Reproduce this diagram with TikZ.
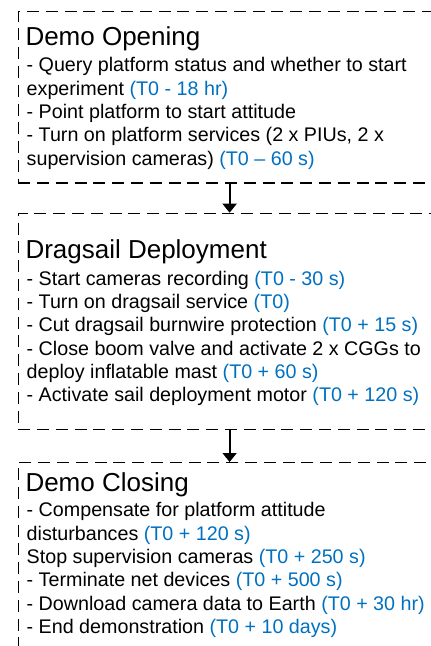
\documentclass[tikz,border=0pt]{standalone}
\usepackage{fontspec}
\setmainfont{Liberation Sans}
\usepackage{xcolor}
\usetikzlibrary{arrows.meta}
\definecolor{tblue}{RGB}{0,112,192}
\tikzset{
    phase/.style={draw, dash pattern=on 12pt off 6.8pt, line width=1.2pt, minimum width=423pt, inner sep=0pt, anchor=north west},
    heading/.style={anchor=base west, inner sep=0pt, font=\fontsize{26}{31}\selectfont},
    items/.style={anchor=north west, inner sep=0pt, align=left, font=\fontsize{19.7}{23.3}\selectfont},
    flow/.style={-{Triangle[length=9pt,width=14pt]}, line width=1.8pt}}
\newcommand{\tm}[1]{\textcolor{tblue}{#1}}

\begin{document}
\begin{tikzpicture}[x=1pt,y=-1pt]
\useasboundingbox (0,0) rectangle (431,646);
\clip (0,0) rectangle (431,646);

\node[phase, minimum height=171.3pt] (open) at (17.5,11) {};
\node[phase, minimum height=216.3pt] (deploy) at (17.5,212.7) {};
\node[phase, minimum height=220pt] (close) at (17.5,462) {};

\node[heading] (opentitle) at (25.3,45) {Demo Opening};
\node[items] (openlist) at (26.5,57.4) {- Query platform status and whether to start\\
experiment \tm{(T0 - 18 hr)}\\
- Point platform to start attitude\\
- Turn on platform services (2 x PIUs, 2 x\\
supervision cameras) \tm{(T0 -- 60 s)}};

\node[heading] (deploytitle) at (25.3,258.3) {Dragsail Deployment};
\node[items] (deploylist) at (26.5,270.7) {- Start cameras recording \tm{(T0 - 30 s)}\\
- Turn on dragsail service \tm{(T0)}\\
- Cut dragsail burnwire protection \tm{(T0 + 15 s)}\\
- Close boom valve and activate 2 x CGGs to\\
deploy inflatable mast \tm{(T0 + 60 s)}\\
- Activate sail deployment motor \tm{(T0 + 120 s)}};

\node[heading] (closetitle) at (25.3,491.7) {Demo Closing};
\node[items] (closelist) at (26.5,502.4) {- Compensate for platform attitude\\
disturbances \tm{(T0 + 120 s)}\\
Stop supervision cameras \tm{(T0 + 250 s)}\\
- Terminate net devices \tm{(T0 + 500 s)}\\
- Download camera data to Earth \tm{(T0 + 30 hr)}\\
- End demonstration \tm{(T0 + 10 days)}};

\draw[flow] (open.south) -- (deploy.north);
\draw[flow] (deploy.south) -- (close.north);
\end{tikzpicture}
\end{document}
